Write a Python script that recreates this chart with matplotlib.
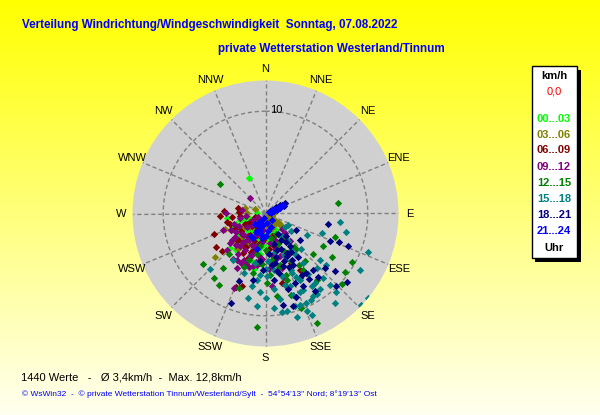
import numpy as np
import matplotlib.pyplot as plt
from matplotlib.patches import Rectangle

# Windvektoren je Zeitklasse als (Ost, Nord) Anteil in km/h
p_00_03 = [(-1.6, 3.5), (-2.9, -1.0), (-0.8, 0.0), (-2.2, -1.2), (-1.8, -1.6), (-1.5, -2.3), (-1.0, -1.3),
           (-0.7, -2.6), (-0.4, -1.9), (0.0, -1.0), (0.3, -2.1), (-1.3, -3.1), (-2.5, -0.6), (-0.9, -0.7),
           (0.5, -1.0), (-1.1, -3.7), (-2.0, -2.9), (-0.2, -3.1), (0.7, -2.7), (-2.7, -2.0), (-1.6, -0.4),
           (0.2, -0.5), (-0.5, -4.0), (1.0, -1.6), (-3.2, -1.1), (-1.2, -2.0), (-0.3, -1.4), (-2.3, -2.4),
           (-1.9, -0.9), (0.4, -3.2), (-0.9, -3.4), (-3.5, -3.4), (-2.9, -3.6), (-1.4, -4.5), (-0.6, -2.2),
           (0.1, -2.5), (-3.8, -0.4), (-1.1, -5.4), (-1.7, -2.7), (-0.2, -2.0), (-2.6, -1.3), (-1.0, -2.9),
           (0.6, -1.8), (-2.1, -0.4), (-0.5, -3.4), (-1.4, -1.6), (0.2, -3.6), (-2.4, -3.0)]
p_03_06 = [(-4.9, -4.3), (-2.0, 0.5), (-1.0, 0.4), (0.5, -0.6), (0.9, -1.0), (1.4, -1.0), (0.1, -0.3),
           (0.6, -0.2), (-0.8, -0.6), (-1.5, -1.3), (-2.5, -2.4), (-2.8, -3.4), (-1.2, -2.4), (-0.5, -3.2),
           (0.1, -1.1), (-1.8, 0.0), (0.4, -0.3), (0.7, -0.5), (1.0, -0.7), (0.5, -0.9), (1.3, -0.9),
           (0.2, -0.6), (1.5, -1.2), (0.8, 0.0), (0.6, -1.4), (-1.3, -0.6), (-2.2, -1.4), (-1.7, -3.0),
           (-0.4, -2.1), (-2.6, -3.4), (-3.1, -2.6), (-4.0, -1.5)]
p_06_09 = [(-4.4, -0.2), (-4.1, 0.2), (-3.8, -0.8), (-2.7, 0.5), (-5.0, -2.0), (-4.8, -3.3), (-4.3, -3.7),
           (-3.5, -1.0), (-3.4, -1.6), (-2.3, -7.1), (-2.9, -7.2), (-2.5, -0.2), (-1.8, -1.0), (-2.8, -2.6),
           (-2.1, -3.2), (-1.2, -3.7), (-1.5, -2.1), (-0.8, -1.3), (-0.2, -2.6), (0.8, -3.2), (1.6, -6.8),
           (3.4, -5.5), (2.5, -4.8), (-0.5, -4.5), (-0.8, -2.1), (-1.8, -4.4), (-0.5, -0.5), (-1.0, -0.3),
           (-1.5, -0.8), (-2.0, -1.0), (-0.8, -1.6), (-1.3, -1.2), (-2.4, -1.7), (-1.7, -2.2), (-0.3, -1.2),
           (-1.1, -2.7), (-2.7, -2.6), (-0.6, -3.0), (-1.9, -3.3), (-0.2, -2.4), (-3.0, -1.5), (-2.2, -3.9),
           (-1.4, -3.8), (0.3, -3.5), (-3.3, -0.3), (-2.6, 0.1), (0.6, -2.2)]
p_09_12 = [(-1.5, 1.5), (-4.2, -1.6), (-3.9, 0.0), (-3.1, -1.0), (-3.1, -7.3), (-2.8, -5.3), (-2.3, 0.3),
           (-2.1, -2.1), (-1.8, -2.6), (-2.5, -3.2), (-1.5, -4.2), (-0.8, -5.0), (0.6, -7.1), (0.5, -4.8),
           (1.4, -4.2), (2.4, -2.7), (3.4, -6.3), (1.6, -1.5), (-0.7, -0.3), (-1.3, -3.1), (0.1, -3.7),
           (-0.2, -1.6), (-2.1, -4.5), (-0.8, -3.2), (-1.2, -1.1), (0.9, -2.6), (1.9, -1.9), (-3.3, -2.6),
           (-2.8, -4.5), (-0.4, -0.9), (-1.2, -0.6), (-1.8, -1.3), (-2.6, -1.2), (-0.9, -2.1), (-1.6, -2.6),
           (-2.3, -2.0), (-3.0, -2.3), (-0.3, -2.8), (-1.0, -3.3), (-2.0, -3.6), (-2.9, -3.1), (0.4, -2.9),
           (-0.6, -4.2), (-1.5, -4.3), (0.2, -3.9), (0.9, -3.5), (-3.4, -1.6), (-2.5, -0.4), (1.0, -4.4),
           (-1.2, -5.1), (0.3, -5.4), (1.6, -5.3), (-2.4, -4.8), (2.2, -4.0), (-1.9, -0.2), (1.7, -6.2),
           (-3.5, -2.9), (-2.7, -4.0), (-1.9, -4.9), (-3.8, -3.6), (-0.9, -4.7), (-3.2, -4.4), (-1.1, -3.9),
           (-2.2, -2.8), (-0.3, -4.4), (0.6, -4.1), (-2.9, -1.8), (-1.6, -5.2)]
p_12_15 = [(-4.45, 2.85), (7.1, 1.0), (-6.1, -4.9), (-5.0, -6.35), (-4.55, -7.0), (-4.2, -5.3), (-0.8, -11.1),
           (5.0, -10.7), (8.5, -4.7), (7.8, -5.7), (7.5, -6.9), (6.5, -4.3), (6.8, -2.3), (5.6, -3.2),
           (4.6, -4.0), (3.7, -5.5), (2.1, -6.5), (1.1, -8.1), (2.5, -8.0), (3.5, -9.2), (0.1, -6.8),
           (-1.2, -5.8), (-2.1, -5.2), (-3.6, -4.0), (-0.5, -4.8), (1.4, -5.0), (3.0, -3.5), (1.9, -2.6),
           (5.0, -6.5), (-2.6, -7.3), (0.5, -2.4), (1.2, -3.0), (0.0, -3.6), (-0.8, -4.0), (1.8, -3.7),
           (0.7, -4.4), (-0.3, -4.9), (2.5, -4.6), (1.3, -5.2), (-1.6, -4.5), (2.8, -3.3), (3.3, -5.0),
           (0.4, -6.0), (2.0, -6.0), (3.9, -4.6), (1.0, -2.0), (-0.5, -3.2), (1.6, -2.5)]
p_15_18 = [(7.3, -0.8), (7.9, -1.8), (10.0, -3.8), (10.0, -8.3), (9.3, -8.9), (9.2, -5.5), (6.9, -7.7),
           (6.8, -8.7), (-5.4, -5.4), (-3.2, -4.5), (-1.7, -8.3), (-0.8, -9.0), (0.0, -8.3), (1.6, -9.6),
           (3.1, -10.1), (4.1, -9.5), (4.5, -9.9), (4.0, -8.7), (2.9, -9.0), (2.1, -9.5), (5.3, -4.5),
           (5.5, -1.9), (4.1, -2.1), (5.0, -5.3), (5.9, -5.0), (3.4, -6.5), (4.5, -7.1), (5.3, -7.4),
           (0.8, -7.4), (-0.5, -7.7), (-1.3, -7.1), (0.1, -6.1), (1.6, -6.1), (2.4, -7.1), (3.4, -7.7),
           (4.6, -8.1), (-2.1, -5.8), (1.9, -4.5), (0.8, -5.5), (3.7, -4.8), (2.5, -5.5), (3.0, -8.2),
           (-0.8, -6.5), (0.8, -9.2), (1.4, -8.4), (1.5, -2.2), (2.2, -2.7), (0.9, -3.8), (1.8, -4.1),
           (2.9, -4.0), (0.2, -4.6), (1.1, -5.6), (3.5, -3.5), (2.6, -5.8), (0.0, -5.4), (-1.0, -4.8),
           (3.0, -6.2), (4.2, -5.9), (1.9, -7.0), (3.7, -7.5), (-0.5, -6.0), (4.8, -6.8), (5.6, -6.3),
           (6.3, -7.0), (2.7, -8.0), (3.4, -8.9), (4.4, -8.5), (5.0, -7.9), (2.5, -3.6), (1.9, -1.3),
           (2.5, -1.7), (2.2, -1.1)]
p_18_21 = [(6.1, -1.0), (6.3, -2.7), (7.2, -2.8), (8.1, -3.2), (6.8, -5.6), (8.0, -6.7), (6.9, -7.1),
           (5.8, -5.3), (-3.4, -8.7), (-2.6, -6.6), (1.7, -8.9), (2.7, -9.0), (3.4, -2.6), (3.0, -1.6),
           (2.1, -3.9), (4.0, -5.8), (2.7, -5.0), (1.1, -5.6), (-0.2, -5.5), (4.6, -5.5), (2.2, -7.4),
           (3.7, -7.1), (0.8, -6.5), (-1.2, -6.5), (0.4, 0.25), (0.8, 0.45), (1.2, 0.65), (1.6, 0.85),
           (1.9, 1.0), (1.0, 0.6), (1.4, 0.8), (1.8, 0.7), (1.2, -2.0), (0.8, -3.0), (1.5, -3.5),
           (0.3, -4.0), (2.0, -2.8), (1.0, -4.3), (2.5, -3.8), (-0.5, -4.6), (1.8, -4.6), (0.6, -5.0),
           (2.3, -5.2), (3.2, -4.3), (1.3, -5.8), (3.6, -6.0), (2.9, -6.8), (4.3, -6.4), (5.1, -6.2),
           (4.8, -7.6), (3.0, -8.2), (1.5, -2.6), (2.4, -3.2), (1.1, -3.6), (2.1, -4.2), (1.7, -5.1),
           (2.6, -4.5), (0.9, -4.8), (2.0, -2.2)]
p_21_24 = [(0.3, 0.15), (0.6, 0.3), (0.9, 0.4), (1.2, 0.55), (1.5, 0.7), (1.7, 0.8), (0.8, 0.2), (1.1, 0.35),
           (1.4, 0.5), (0.5, 0.05), (-0.3, -0.6), (-0.6, -1.2), (-0.9, -1.8), (-1.2, -2.4), (-0.2, -1.1),
           (-0.4, -2.0), (0.1, -0.9), (0.2, -1.7), (-1.0, -1.0), (-0.8, -3.5), (0.5, -1.3), (-0.1, -0.4),
           (0.6, -0.6), (0.0, -2.2), (-0.5, -1.6), (-1.4, -2.2), (-0.7, -0.9), (-0.3, -2.4)]

klassen = ['00...03', '03...06', '06...09', '09...12', '12...15', '15...18', '18...21', '21...24']
punkte = [p_00_03, p_03_06, p_06_09, p_09_12, p_12_15, p_15_18, p_18_21, p_21_24]
farben = ['#00FF00', '#808000', '#800000', '#800080', '#008000', '#008080', '#000080', '#0000FF']
richtungen = ['N', 'NNE', 'NE', 'ENE', 'E', 'ESE', 'SE', 'SSE',
              'S', 'SSW', 'SW', 'WSW', 'W', 'WNW', 'NW', 'NNW']
r_max = 13

W, H = 600, 415
fig = plt.figure(figsize=(6, 4.15), dpi=100)
plt.rcParams['font.family'] = ['Liberation Sans', 'DejaVu Sans']


def fx(x, y):
    return x / W, 1 - y / H


# gelber Verlauf als Hintergrund
bg = fig.add_axes([0, 0, 1, 1])
g = np.linspace(0, 1, 256)[:, None]
img = np.dstack([np.ones_like(g), np.ones_like(g), g * 0.94])
bg.imshow(img, aspect='auto', extent=[0, 1, 0, 1], origin='upper')
bg.set_xlim(0, 1)
bg.set_ylim(0, 1)
bg.set_axis_off()

# Polardiagramm
cx, cy, rad = 265.5, 213.5, 133
ax = fig.add_axes([(cx - rad) / W, (H - cy - rad) / H, 2 * rad / W, 2 * rad / H], projection='polar')
ax.set_theta_zero_location('N')
ax.set_theta_direction(-1)
ax.set_ylim(0, r_max)
ax.set_facecolor('#D0D0D0')
ax.grid(False)
ax.set_xticks([])
ax.set_yticks([])
ax.spines['polar'].set_visible(False)

for i in range(16):
    th = np.radians(i * 22.5)
    ax.plot([th, th], [0, r_max], color='#808080', lw=1, ls=(0, (3, 2)), zorder=1)
    ax.text(th, 14.1, richtungen[i], ha='center', va='center', fontsize=8, clip_on=False)
t = np.linspace(0, 2 * np.pi, 361)
ax.plot(t, np.full_like(t, 10), color='#808080', lw=1, ls=(0, (3, 2)), zorder=1)
ax.annotate('10', xy=(0, 10), xytext=(3, 1), textcoords='offset points', ha='left', va='center', fontsize=8)

for pts, c in zip(punkte, farben):
    a = np.array(pts)
    theta = np.arctan2(a[:, 0], a[:, 1])
    r = np.hypot(a[:, 0], a[:, 1])
    ax.scatter(theta, r, s=14, marker='D', color=c, linewidths=0, zorder=3)

# Titel
fig.text(*fx(22, 25), 'Verteilung Windrichtung/Windgeschwindigkeit  Sonntag, 07.08.2022',
         color='#0000FF', fontsize=8.4, fontweight='bold', ha='left', va='center')
fig.text(*fx(218, 49), 'private Wetterstation Westerland/Tinnum',
         color='#0000FF', fontsize=8.4, fontweight='bold', ha='left', va='center')

# Legende
bg.add_patch(Rectangle(fx(535, 262), 46 / W, 192 / H, facecolor='black', edgecolor='none'))
bg.add_patch(Rectangle(fx(531.5, 258), 45.5 / W, 192 / H, facecolor='white', edgecolor='black', lw=1))
fig.text(*fx(554, 76), 'km/h', fontsize=8, fontweight='bold', ha='center', va='center')
fig.text(*fx(554, 92), '0,0', fontsize=8, color='red', ha='center', va='center')
ys = [119, 135, 150, 167, 183, 199, 215, 231]
for k, c, y in zip(klassen, farben, ys):
    fig.text(*fx(554, y), k, fontsize=8, fontweight='bold', color=c, ha='center', va='center')
fig.text(*fx(554, 248), 'Uhr', fontsize=8, fontweight='bold', ha='center', va='center')

# Fusszeilen
fig.text(*fx(21, 377), '1440 Werte   -   Ø 3,4km/h  -  Max. 12,8km/h', fontsize=8, ha='left', va='center')
fig.text(*fx(22, 394), "© WsWin32  -  © private Wetterstation Tinnum/Westerland/Sylt  -  54°54'13'' Nord; 8°19'13'' Ost",
         fontsize=6, color='#0000FF', ha='left', va='center')

fig.savefig('out.png', dpi=100)
